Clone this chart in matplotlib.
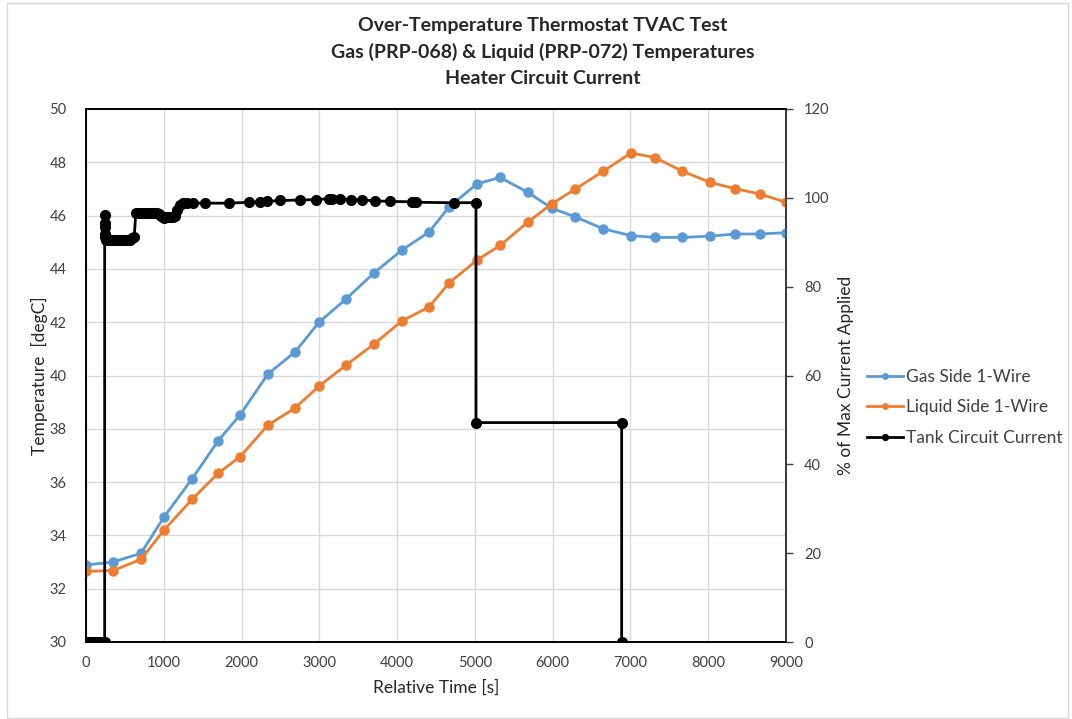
import matplotlib
matplotlib.use("Agg")
import matplotlib.pyplot as plt
from matplotlib.patches import Rectangle

plt.rcParams['font.family'] = ['Lato', 'DejaVu Sans']

# Temperature sensors (time in s, degC)
gas_time = [0, 347, 707, 1003, 1363, 1697, 1980, 2340, 2687, 2996, 3343, 3703,
            4063, 4410, 4667, 5027, 5323, 5683, 5993, 6293, 6653, 7007, 7316,
            7663, 8023, 8344, 8666, 9000]
gas_temp = [32.89, 33.00, 33.33, 34.69, 36.12, 37.54, 38.52, 40.06, 40.88, 42.00,
            42.87, 43.85, 44.71, 45.38, 46.32, 47.19, 47.43, 46.87, 46.27, 45.95,
            45.50, 45.25, 45.18, 45.18, 45.23, 45.31, 45.31, 45.36]

liq_time = gas_time
liq_temp = [32.65, 32.68, 33.10, 34.20, 35.35, 36.33, 36.95, 38.14, 38.78, 39.60,
            40.39, 41.18, 42.05, 42.57, 43.47, 44.33, 44.88, 45.76, 46.45, 47.00,
            47.67, 48.35, 48.18, 47.67, 47.25, 47.01, 46.81, 46.50]

# Heater circuit current (time in s, % of max current)
cur_time = [0, 25, 50, 75, 100, 125, 150, 175, 200, 225, 240,
            240, 243, 245, 248, 250,
            260, 290, 320, 350, 380, 410, 440, 470, 500, 530, 560, 590, 620,
            640, 670, 700, 730, 760, 790, 820, 850, 880, 910, 940, 970,
            1000, 1030, 1060, 1090, 1120, 1150,
            1166, 1209, 1251, 1300, 1380, 1530, 1843, 2096, 2237, 2331, 2494,
            2751, 2953, 3120, 3159, 3266, 3407, 3552, 3720, 3909, 4195, 4243,
            4735, 5014, 5014, 6887, 6887]
cur_pct = [0, 0, 0, 0, 0, 0, 0, 0, 0, 0, 0,
           96.1, 94.4, 93.4, 91.8, 91.2,
           90.4, 90.4, 90.4, 90.4, 90.4, 90.4, 90.4, 90.4, 90.4, 90.5, 90.6, 90.9, 91.2,
           96.5, 96.6, 96.6, 96.6, 96.6, 96.6, 96.6, 96.5, 96.5, 96.5, 96.4, 95.8,
           95.4, 95.6, 95.6, 95.7, 95.7, 95.9,
           97.2, 98.3, 98.8, 98.8, 98.8, 98.8, 98.8, 99.0, 99.1, 99.2, 99.4,
           99.5, 99.6, 99.8, 99.8, 99.8, 99.6, 99.5, 99.3, 99.2, 99.1, 99.0,
           98.9, 98.9, 49.4, 49.4, 0]

x_ticks = list(range(0, 9001, 1000))
y_ticks = list(range(30, 51, 2))
y2_ticks = list(range(0, 121, 20))

W, H = 1072, 719
fig = plt.figure(figsize=(W / 100, H / 100), dpi=100)
L, R, T, B = 86, 786, 109, 642
ax = fig.add_axes([L / W, 1 - B / H, (R - L) / W, (B - T) / H])
ax2 = ax.twinx()

blue = '#5B9BD5'
orange = '#ED7D31'

l1, = ax.plot(gas_time, gas_temp, color=blue, lw=2, marker='o', ms=6.5,
              label='Gas Side 1-Wire', zorder=3)
l2, = ax.plot(liq_time, liq_temp, color=orange, lw=2, marker='o', ms=6.5,
              label='Liquid Side 1-Wire', zorder=4)
l3, = ax2.plot(cur_time, cur_pct, color='black', lw=2, marker='o', ms=7,
               label='Tank Circuit Current', zorder=5)

ax.set_xlim(0, 9000)
ax.set_ylim(30, 50)
ax2.set_ylim(0, 120)
ax.set_xticks(x_ticks)
ax.set_yticks(y_ticks)
ax2.set_yticks(y2_ticks)
ax.grid(True, color='#d9d9d9', lw=1)
ax.set_axisbelow(True)

for a in (ax, ax2):
    for s in a.spines.values():
        s.set_color('black')
        s.set_linewidth(1.2)
ax2.spines['right'].set_color('#404040')

ax.tick_params(axis='both', length=0, labelsize=10.5, colors='#404040', pad=10)
ax.tick_params(axis='y', pad=14)
ax2.tick_params(axis='y', length=5, width=1, color='#404040', labelsize=10.5,
                labelcolor='#404040', pad=8)

ax.set_xlabel('Relative Time [s]', fontsize=12.5, color='#262626', labelpad=7)
ax.set_ylabel('Temperature  [degC]', fontsize=12.5, color='#262626', labelpad=1)
ax2.set_ylabel('% of Max Current Applied', fontsize=12.5, color='#262626', labelpad=6)

for ypx, line in ((25, 'Over-Temperature Thermostat TVAC Test'),
                  (52, 'Gas (PRP-068) & Liquid (PRP-072) Temperatures'),
                  (78, 'Heater Circuit Current')):
    fig.text(543 / W, 1 - ypx / H, line, ha='center', va='center',
             fontsize=14, fontweight='bold', color='#262626')

leg = fig.legend(handles=[l1, l2, l3], loc='upper left',
                 bbox_to_anchor=(851 / W, 1 - 353 / H), frameon=False,
                 fontsize=12.5, handlelength=2.1, handletextpad=0.15,
                 labelspacing=0.85, markerscale=0.6)
for t in leg.get_texts():
    t.set_color('#404040')

fig.patches.append(Rectangle((7 / W, 1 / H), (1068 - 7) / W, (716 - 1) / H,
                             transform=fig.transFigure, fill=False,
                             edgecolor='#d9d9d9', lw=1))

fig.savefig('out.png', dpi=100)
